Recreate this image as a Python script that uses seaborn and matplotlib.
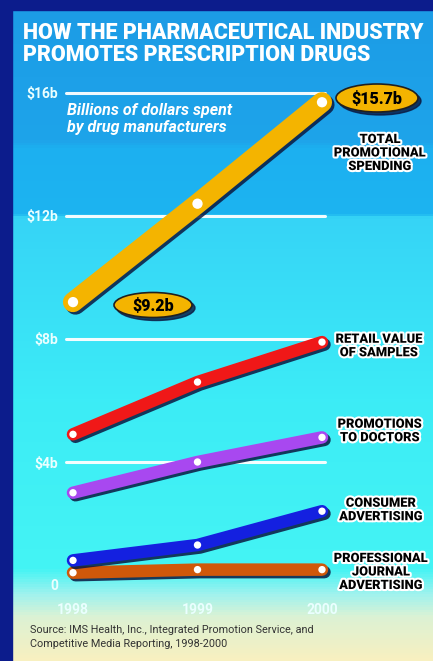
import numpy as np
import pandas as pd
import matplotlib
matplotlib.use("Agg")
import matplotlib.pyplot as plt
import matplotlib.patheffects as pe
from matplotlib.patches import Ellipse, Rectangle
from matplotlib.colors import LinearSegmentedColormap
import seaborn as sns

# ---- data ----
years = [1998, 1999, 2000]
year_labels = ["1998", "1999", "2000"]
total_promo = [9.2, 12.4, 15.7]
retail_samples = [4.9, 6.6, 7.9]
promo_doctors = [3.0, 4.0, 4.8]
consumer_adv = [0.8, 1.3, 2.4]
journal_adv = [0.4, 0.5, 0.5]
series_names = ["TOTAL\nPROMOTIONAL\nSPENDING", "RETAIL VALUE\nOF SAMPLES",
                "PROMOTIONS\nTO DOCTORS", "CONSUMER\nADVERTISING",
                "PROFESSIONAL\nJOURNAL\nADVERTISING"]
y_ticks = [0, 4, 8, 12, 16]
y_tick_labels = ["0", "$4b", "$8b", "$12b", "$16b"]

series = [total_promo, retail_samples, promo_doctors, consumer_adv, journal_adv]
colors = ["#f4b400", "#f01818", "#a848f0", "#1420e0", "#d0580a"]
widths = [14.5, 9.0, 9.0, 9.0, 9.0]
dot_sizes = [55, 28, 28, 28, 28]

rows = []
for name, vals in zip(series_names, series):
    for yr, v in zip(years, vals):
        rows.append({"year": yr, "value": v, "series": name})
df = pd.DataFrame(rows)

sns.set_theme(style="white")
COND = ["Roboto", "DejaVu Sans"]
plt.rcParams["font.family"] = COND

W, H = 433, 661
fig = plt.figure(figsize=(W / 100, H / 100), dpi=100)
fig.patch.set_facecolor("#0c1c8c")

# ---- background panel ----
bg = fig.add_axes([0, 0, 1, 1])
bg.set_xlim(0, W)
bg.set_ylim(H, 0)
bg.axis("off")
stops = [(0.0, "#1c9ce6"), (0.20, "#1ea4ea"), (0.21, "#1cb0f0"), (0.312, "#1cb4f0"),
         (0.318, "#36d4f6"), (0.60, "#3cecf6"), (0.86, "#44f4f4"), (0.90, "#a0f2ee"),
         (0.935, "#dcf2d4"), (1.0, "#f8f0c0")]
cmap = LinearSegmentedColormap.from_list("bgc", stops)
grad = np.linspace(0, 1, 651).reshape(-1, 1)
bg.imshow(grad, cmap=cmap, aspect="auto", extent=(12, W, H, 10), zorder=0)
bg.add_patch(Rectangle((0, 0), 12, H, color="#0c1c8c", zorder=1))
bg.add_patch(Rectangle((0, 0), W, 10, color="#0c1c8c", zorder=1))

# ---- main axes ----
left_px, right_px, top_px, bot_px = 62, 330, 85, 600
ax = fig.add_axes([left_px / W, 1 - bot_px / H, (right_px - left_px) / W, (bot_px - top_px) / H])
ax.patch.set_alpha(0)
xscale = (322 - 73) / 2.0
xmin = 1998 - (73 - left_px) / xscale
xmax = xmin + (right_px - left_px) / xscale
yscale = (585 - 93) / 16.0
ymin = -(bot_px - 585) / yscale
ymax = ymin + (bot_px - top_px) / yscale
ax.set_xlim(xmin, xmax)
ax.set_ylim(ymin, ymax)

for t in y_ticks[1:]:
    ax.axhline(t, xmin=(66 - left_px) / (right_px - left_px),
               xmax=(325 - left_px) / (right_px - left_px),
               color="white", lw=2.2, zorder=1, alpha=0.95)

for i, (name, col, lw, ds) in enumerate(zip(series_names, colors, widths, dot_sizes)):
    sub = df[df["series"] == name]
    sns.lineplot(data=sub, x="year", y="value", ax=ax, color=col, linewidth=lw,
                 solid_capstyle="round", solid_joinstyle="round", zorder=3 + (4 - i) * 0.1,
                 clip_on=False, legend=False,
                 path_effects=[pe.SimpleLineShadow(offset=(1.8, -1.8), shadow_color="#0a1840", alpha=0.85),
                               pe.Normal()])
    sns.scatterplot(data=sub, x="year", y="value", ax=ax, color="white", s=ds,
                    edgecolor="none", zorder=5, clip_on=False, legend=False)

for s in ax.spines.values():
    s.set_visible(False)
ax.set_xlabel("")
ax.set_ylabel("")
ax.set_yticks(y_ticks)
ax.set_yticklabels(y_tick_labels)
ax.set_xticks(years)
ax.set_xticklabels(year_labels)
ax.tick_params(axis="both", length=0, colors="#eaffff", labelsize=10)
ax.tick_params(axis="y", pad=3)
ax.tick_params(axis="x", pad=2)
for lab in ax.get_yticklabels() + ax.get_xticklabels():
    lab.set_fontweight("bold")
    lab.set_family(COND)
ax.grid(False)

# ---- overlay for annotations (pixel coords) ----
ov = fig.add_axes([0, 0, 1, 1])
ov.set_xlim(0, W)
ov.set_ylim(H, 0)
ov.axis("off")
ov.patch.set_alpha(0)

ov.text(23, 44, "HOW THE PHARMACEUTICAL INDUSTRY\nPROMOTES PRESCRIPTION DRUGS",
        color="white", fontsize=15.5, fontweight="black", ha="left", va="center",
        linespacing=1.05, family=COND)
ov.text(67, 119, "Billions of dollars spent\nby drug manufacturers", color="white",
        fontsize=11.5, fontweight="bold", fontstyle="italic", ha="left", va="center",
        linespacing=1.1, family=COND)

glow = [pe.withStroke(linewidth=3, foreground="white")]
label_pos = [(380, 153), (379, 346), (380, 431), (381, 510), (381, 572)]
for name, (lx, ly) in zip(series_names, label_pos):
    ov.text(lx, ly, name, color="black", fontsize=9.3, fontweight="black", ha="center",
            va="center", linespacing=1.05, path_effects=glow, family=COND)

# value badges
for (cx, cy, w, h), val in [((377, 98, 82, 28), total_promo[-1]), ((153, 305, 78, 25), total_promo[0])]:
    ov.add_patch(Ellipse((cx + 3, cy + 3), w, h, color="#0a1840", alpha=0.8, zorder=4))
    ov.add_patch(Ellipse((cx, cy), w, h, facecolor="#f4b400", edgecolor="#202020", lw=1.2, zorder=5))
    ov.text(cx, cy + 1, f"${val}b", color="black", fontsize=11.5, fontweight="black",
            ha="center", va="center", zorder=6, family=COND)

ov.text(30, 637, "Source: IMS Health, Inc., Integrated Promotion Service, and\nCompetitive Media Reporting, 1998-2000",
        color="#333333", fontsize=7.8, ha="left", va="center", linespacing=1.5, family=COND)

fig.savefig("out.png", dpi=100, facecolor=fig.get_facecolor())
